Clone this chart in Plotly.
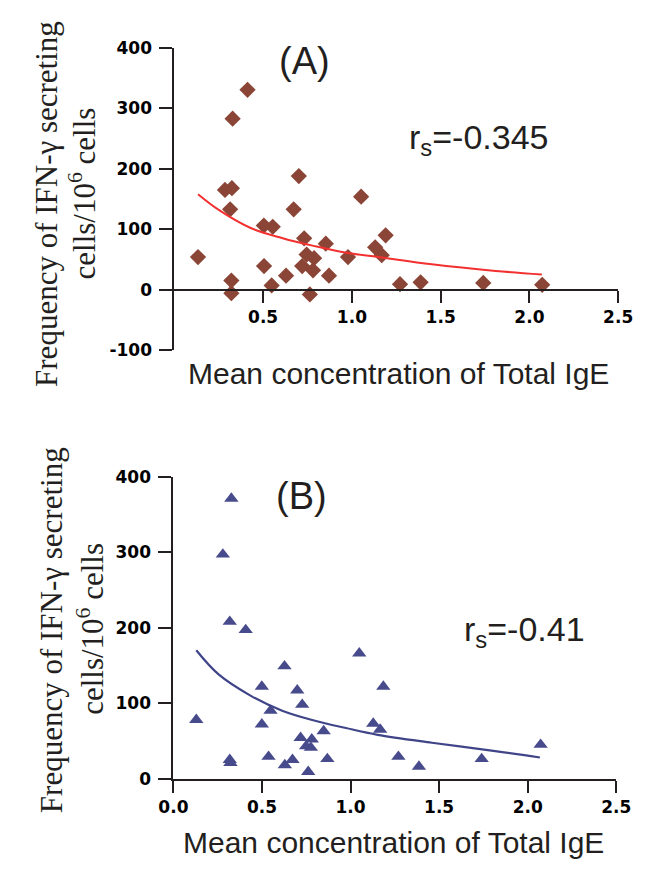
import plotly.graph_objects as go

W, H = 658, 870

# ---------------- data ----------------
a_x = [0.133, 0.285, 0.324, 0.314, 0.328, 0.412, 0.321, 0.321, 0.504, 0.554, 0.505, 0.548,
       0.629, 0.672, 0.701, 0.731, 0.745, 0.720, 0.787, 0.781, 0.763, 0.853, 0.871, 0.978,
       1.052, 1.131, 1.168, 1.190, 1.271, 1.387, 1.740, 2.072]
a_y = [54, 165, 168, 133, 283, 331, 15, -6, 106, 104, 39, 7,
       23, 133, 188, 85, 58, 39, 52, 32, -8, 76, 23, 54,
       154, 70, 57, 90, 9, 12, 11, 8]
a_fit_x = [0.133, 0.25, 0.43, 0.61, 0.79, 0.97, 1.15, 1.45, 1.81, 2.07]
a_fit_y = [158, 132, 102, 85, 72, 61, 54, 42, 31, 25]

b_x = [0.129, 0.279, 0.327, 0.318, 0.408, 0.318, 0.322, 0.499, 0.499, 0.548, 0.537, 0.627,
       0.629, 0.672, 0.699, 0.727, 0.718, 0.781, 0.749, 0.776, 0.761, 0.848, 0.869, 1.049,
       1.128, 1.167, 1.185, 1.270, 1.386, 1.740, 2.073]
b_y = [78, 297, 371, 208, 197, 25, 21, 122, 72, 90, 29, 149,
       18, 25, 117, 98, 54, 52, 43, 41, 9, 63, 26, 166,
       73, 65, 122, 29, 16, 26, 45]
b_fit_x = [0.129, 0.255, 0.435, 0.614, 0.794, 0.974, 1.153, 1.459, 1.817, 2.069]
b_fit_y = [170, 138, 110, 90, 77, 67, 58, 47.5, 36.5, 28]

a_xticks = [0.5, 1.0, 1.5, 2.0, 2.5]
a_xtext = ["0.5", "1.0", "1.5", "2.0", "2.5"]
a_yticks = [-100, 0, 100, 200, 300, 400]
a_ytext = ["-100", "0", "100", "200", "300", "400"]
b_xticks = [0.0, 0.5, 1.0, 1.5, 2.0, 2.5]
b_xtext = ["0.0", "0.5", "1.0", "1.5", "2.0", "2.5"]
b_yticks = [0, 100, 200, 300, 400]
b_ytext = ["0", "100", "200", "300", "400"]

x_title = "Mean concentration of Total IgE"
y_title_1 = "Frequency of IFN-\u03b3 secreting"
y_title_2 = "cells/10<sup>6</sup> cells"
label_a, label_b = "(A)", "(B)"
r_a = "r<sub>s</sub>=-0.345"
r_b = "r<sub>s</sub>=-0.41"

# ---------------- style ----------------
BROWN = "#8B4536"
NAVY = "#474B8C"
RED = "#F2302F"
BLUE = "#3F4588"
AX = "#231F20"

def px_x(p):
    return p / W

def px_y(p):
    return 1 - p / H

a_xdom = [px_x(167), px_x(632)]
a_ydom = [px_y(348), px_y(39)]
b_xdom = [px_x(166), px_x(630)]
b_ydom = [px_y(786.7), px_y(477.7)]

a_yrange = [-100, 400]
a_xpos = a_ydom[0] + (0 - a_yrange[0]) / (a_yrange[1] - a_yrange[0]) * (a_ydom[1] - a_ydom[0])

tickfont_a = dict(family="DejaVu Sans", size=17, color="#000000", weight=700)
tickfont_b = dict(family="DejaVu Sans", size=17, color="#000000", weight=700)

fig = go.Figure()
fig.add_trace(go.Scatter(x=a_x, y=a_y, mode="markers", xaxis="x", yaxis="y",
                         marker=dict(symbol="diamond", size=12.5, color=BROWN), cliponaxis=False))
fig.add_trace(go.Scatter(x=a_fit_x, y=a_fit_y, mode="lines", xaxis="x", yaxis="y",
                         line=dict(color=RED, width=2, shape="spline")))
fig.add_trace(go.Scatter(x=b_x, y=b_y, mode="markers", xaxis="x2", yaxis="y2",
                         marker=dict(symbol="triangle-up", size=12.5, color=NAVY), cliponaxis=False))
fig.add_trace(go.Scatter(x=b_fit_x, y=b_fit_y, mode="lines", xaxis="x2", yaxis="y2",
                         line=dict(color=BLUE, width=2.2, shape="spline")))

common = dict(showgrid=False, zeroline=False, showline=True, linecolor=AX, linewidth=2,
              ticks="outside", tickcolor=AX, tickwidth=2)

fig.update_layout(
    width=W, height=H, margin=dict(l=0, r=0, t=0, b=0),
    paper_bgcolor="white", plot_bgcolor="white", showlegend=False,
    xaxis=dict(domain=a_xdom, range=[0, 2.5], anchor="free", position=a_xpos,
               tickvals=a_xticks, ticktext=a_xtext, ticklen=12, tickfont=tickfont_a, **common),
    yaxis=dict(domain=a_ydom, range=a_yrange, anchor="x", tickvals=a_yticks, ticktext=a_ytext,
               ticklen=13, ticklabelstandoff=4, tickfont=tickfont_a, **common),
    xaxis2=dict(domain=b_xdom, range=[0, 2.5], anchor="y2",
                tickvals=b_xticks, ticktext=b_xtext, ticklen=12, tickfont=tickfont_b, **common),
    yaxis2=dict(domain=b_ydom, range=[0, 400], anchor="x2", tickvals=b_yticks, ticktext=b_ytext,
                ticklen=13, ticklabelstandoff=4, tickfont=tickfont_b, **common),
)

ann = []
def A(text, x, y, size, family="Liberation Sans", angle=0, xanchor="center", yanchor="middle"):
    ann.append(dict(text=text, x=px_x(x), y=px_y(y), xref="paper", yref="paper",
                    showarrow=False, textangle=angle, xanchor=xanchor, yanchor=yanchor,
                    font=dict(family=family, size=size, color=AX)))

A(label_a, 303, 52, 38)
A(label_b, 300, 497, 38)
A(r_a, 411, 133, 34, xanchor="left")
A(r_b, 468, 636, 34, xanchor="left")
A(x_title, 402, 372, 30)
A(x_title, 397, 852, 30)
A(y_title_1, 33, 198, 31, family="Liberation Serif", angle=-90)
A(y_title_2, 71, 188, 31, family="Liberation Serif", angle=-90)
A(y_title_1, 38.5, 635, 31, family="Liberation Serif", angle=-90)
A(y_title_2, 79, 633, 31, family="Liberation Serif", angle=-90)
fig.update_layout(annotations=ann)

fig.write_html("out.html")
